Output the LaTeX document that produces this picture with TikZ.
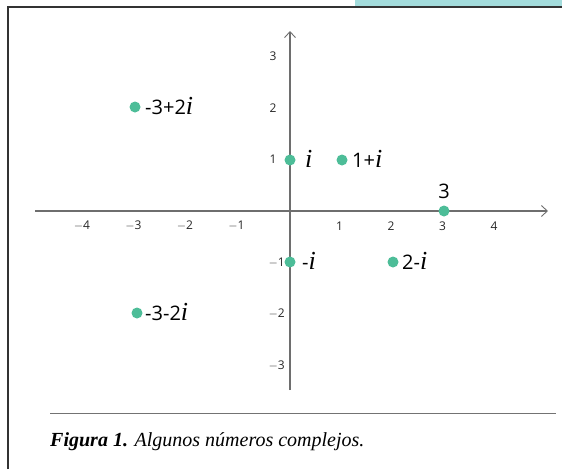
\documentclass[tikz,border=0pt]{standalone}
\usepackage{fontspec}
\usetikzlibrary{arrows.meta}
\setmainfont{Liberation Serif}
\newfontfamily\labfont{Open Sans}
\newfontfamily\itfont{Liberation Serif}
\definecolor{pointgreen}{HTML}{4DBD98}
\definecolor{barcyan}{HTML}{A3DCDC}
\definecolor{axisgray}{HTML}{6E6E6E}
\newcommand{\ii}{{\itfont\itshape\fontsize{26}{26}\selectfont i}}
\begin{document}
\begin{tikzpicture}[x=1pt,y=-1pt,
  axis/.style={draw=axisgray,line width=1.1pt,-{Straight Barb[length=6pt,width=11pt,line width=0.9pt]}},
  pt/.style={circle,fill=pointgreen,inner sep=0pt,minimum size=11pt},
  tick/.style={font=\labfont\fontsize{12}{14}\selectfont,text=black!85,inner sep=0pt},
  lab/.style={font=\labfont\fontsize{20}{22}\selectfont,inner sep=0pt,anchor=base west},
  frameline/.style={draw=black!80,line width=1.3pt}]
\useasboundingbox (0,0) rectangle (562,469);
\fill[barcyan] (355,0) rectangle (562,6);
\draw[frameline] (8,469) -- (8,7) -- (562,7);
% axes
\coordinate (xl) at (35,211);
\coordinate (xr) at (548,211);
\coordinate (yb) at (290,390);
\coordinate (yt) at (290,31);
\draw[axis] (xl) -- (xr);
\draw[axis] (yb) -- (yt);
% x tick labels
\foreach \v/\t in {-4/{$-$4},-3/{$-$3},-2/{$-$2},-1/{$-$1},1/1,2/2,3/3,4/4}
  \node[tick] at (290+51.5*\v-2,226) {\t};
% y tick labels
\foreach \v/\t in {3/3,2/2,1/1}
  \node[tick] at (273,211-51.5*\v) {\t};
\foreach \v/\t in {-1/{$-$1},-2/{$-$2},-3/{$-$3}}
  \node[tick,anchor=east] at (285,211-51.5*\v) {\t};
% points
\node[pt] (pm3p2) at (135,107) {};
\node[pt] (pi) at (290,160) {};
\node[pt] (p1p) at (342,160) {};
\node[pt] (p3) at (444,211) {};
\node[pt] (pmi) at (290,262) {};
\node[pt] (p2m) at (393,262) {};
\node[pt] (pm3m2) at (137,313) {};
% labels (baseline about 7pt below point centre)
\node[lab] (lm3p2) at (145,114) {-3+2\ii};
\node[lab] (li) at (305,167) {\ii};
\node[lab] (l1p) at (352,167) {1+\ii};
\node[lab,anchor=base] (l3) at (444,198) {3};
\node[lab] (lmi) at (302,269) {-\ii};
\node[lab] (l2m) at (402,269) {2-\ii};
\node[lab] (lm3m2) at (145,320) {-3-2\ii};
% caption
\coordinate (sl) at (50,413);
\coordinate (sr) at (556,413);
\draw[draw=black!55,line width=1pt] (sl) -- (sr);
\node[anchor=base west,inner sep=0pt,font=\fontsize{20}{22}\selectfont] (cap) at (50,446) {\textbf{\textit{Figura 1.}} \textit{Algunos números complejos.}};
\end{tikzpicture}
\end{document}
